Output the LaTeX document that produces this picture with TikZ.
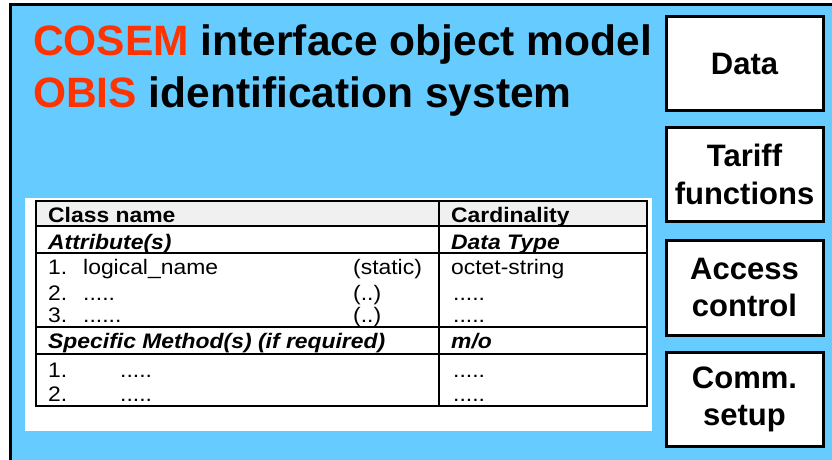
\documentclass[tikz,border=0pt]{standalone}
\usepackage{fontspec}
\setmainfont{Liberation Sans}
\newfontfamily\tabfont{Liberation Sans}[FakeStretch=1.09]
\definecolor{bgblue}{HTML}{66CCFF}
\definecolor{titlered}{HTML}{FF3300}
\definecolor{headgray}{HTML}{F0F0F0}
\begin{document}
\begin{tikzpicture}[x=1pt,y=-1pt,
  txt/.style={anchor=base west, inner sep=0pt, font=\tabfont\fontsize{21}{25}\selectfont},
  txtb/.style={anchor=base west, inner sep=0pt, font=\tabfont\bfseries\fontsize{21}{25}\selectfont},
  txtbi/.style={anchor=base west, inner sep=0pt, font=\tabfont\bfseries\itshape\fontsize{21}{25}\selectfont},
  titletxt/.style={anchor=base west, inner sep=0pt, font=\bfseries\fontsize{42.5}{50}\selectfont},
  sidebox/.style={draw=black, line width=3pt, fill=white, minimum width=157pt, minimum height=94pt,
    align=center, inner sep=0pt, font=\bfseries\fontsize{31}{37.5}\selectfont},
  tabline/.style={line width=2.5pt, draw=black}]
\useasboundingbox (0,0) rectangle (832,459);
\clip (0,0) rectangle (832,459);
% background
\fill[white] (0,0) rectangle (832,459);
\draw[fill=bgblue, line width=3pt] (10,4) rectangle (850,480);
% title
\node[titletxt] (t1) at (33,55) {\textcolor{titlered}{COSEM} interface object model};
\node[titletxt] (t2) at (33,107) {\textcolor{titlered}{OBIS} identification system};
% side boxes
\node[sidebox] (data) at (744.5,63.5) {Data};
\node[sidebox] (tariff) at (744.5,174.5) {Tariff\\functions};
\node[sidebox, minimum height=95pt] (access) at (744.5,287.5) {Access\\control};
\node[sidebox] (comm) at (744.5,399.5) {Comm.\\setup};
% table panel
\fill[white] (25,198) rectangle (652,431);
\fill[headgray] (36,201) rectangle (647,226);
\draw[tabline] (36,201) rectangle (647,406);
\draw[tabline] (36,226) -- (647,226);
\draw[tabline] (36,253) -- (647,253);
\draw[tabline] (36,327) -- (647,327);
\draw[tabline] (36,354) -- (647,354);
\draw[tabline] (439,201) -- (439,406);
% table text
\node[txtb] (cn) at (48,222) {Class name};
\node[txtb] (card) at (451,222) {Cardinality};
\node[txtbi] (attr) at (48,249) {Attribute(s)};
\node[txtbi] (dtype) at (451,249) {Data Type};
\node[txt] (a1n) at (48,274) {1.};
\node[txt] (a1) at (83,274) {logical\_name};
\node[txt] (a1s) at (353,274) {(static)};
\node[txt] (a1t) at (451,274) {octet-string};
\node[txt] (a2n) at (48,300) {2.};
\node[txt] (a2) at (83,300) {.....};
\node[txt] (a2s) at (353,300) {(..)};
\node[txt] (a2t) at (453,300) {.....};
\node[txt] (a3n) at (48,322) {3.};
\node[txt] (a3) at (83,322) {......};
\node[txt] (a3s) at (353,322) {(..)};
\node[txt] (a3t) at (453,322) {.....};
\node[txtbi] (meth) at (48,348) {Specific Method(s) (if required)};
\node[txtbi] (mo) at (451,348) {m/o};
\node[txt] (m1n) at (48,377) {1.};
\node[txt] (m1) at (120,377) {.....};
\node[txt] (m1t) at (453,377) {.....};
\node[txt] (m2n) at (48,401) {2.};
\node[txt] (m2) at (120,401) {.....};
\node[txt] (m2t) at (453,401) {.....};
\end{tikzpicture}
\end{document}
